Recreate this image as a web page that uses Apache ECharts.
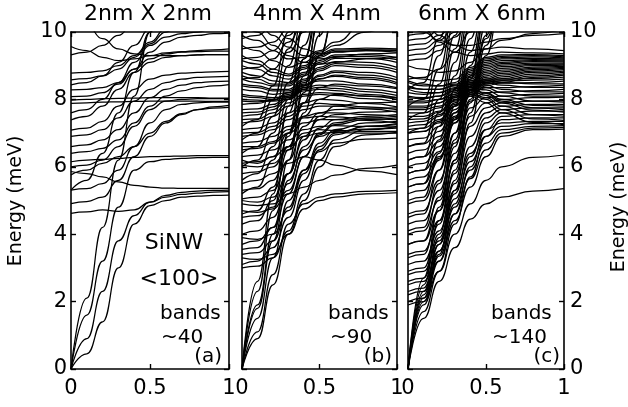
<!DOCTYPE html>
<html><head><meta charset="utf-8">
<script src="https://cdn.jsdelivr.net/npm/echarts@6/dist/echarts.min.js"></script>
<style>html,body{margin:0;padding:0;background:#fff}#c{width:628px;height:407px}</style>
</head><body><div id="c"></div>
<script>
// wave-vector samples (fraction of zone) for each panel
const kA = [0,0.1,0.2,0.3,0.4,0.5,0.6,0.7,0.8,0.9,1];
const kB = [0,0.1,0.2,0.3,0.4,0.5,0.6,0.8,1];
const kC = [0,0.1,0.2,0.3,0.4,0.5,0.6,0.8,1];

// panel (a) 2nm x 2nm bands, energy in meV at kA
const bandsA = [
[0,2.1,4.2,6.2,8.1,10,11.8,13,14,15,16],
[0,0.45,1.4,3.0,4.3,4.85,5.0,5.1,5.13,5.15,5.16],
[0,0.9,2.3,3.8,4.55,4.95,5.1,5.18,5.22,5.25,5.26],
[0,1.6,3.2,4.8,5.9,6.15,6.22,6.25,6.27,6.28,6.28],
[4.62,4.66,4.72,4.68,4.72,4.95,5.15,5.24,5.28,5.3,5.31],
[6.15,6.2,6.22,6.25,6.28,6.3,6.31,6.32,6.33,6.33,6.33],
[5.86,5.8,5.7,5.55,5.45,5.4,5.37,5.36,5.36,5.36,5.36],
[5.76,5.9,6.1,6.3,6.6,7.0,7.35,7.58,7.7,7.74,7.76],
[4.91,4.97,5.1,5.6,6.3,6.9,7.3,7.55,7.7,7.78,7.82],
[6.4,6.45,6.55,6.8,7.3,7.8,8.1,8.25,8.35,8.4,8.44],
[6.6,6.65,6.8,7.1,7.6,8.05,8.3,8.42,8.5,8.53,8.54],
[6.9,6.95,7.1,7.45,7.95,8.3,8.5,8.6,8.65,8.67,8.68],
[7.09,7.15,7.35,7.8,8.3,8.6,8.72,8.78,8.8,8.82,8.83],
[7.39,7.5,7.8,8.3,8.8,9.1,9.25,9.3,9.32,9.33,9.33],
[7.88,7.9,7.92,7.93,7.94,7.95,7.95,7.95,7.95,7.94,7.94],
[7.98,8.0,8.02,8.03,8.04,8.05,8.05,8.05,8.05,8.04,8.04],
[8.08,8.1,8.2,8.45,8.9,9.2,9.35,9.4,9.42,9.43,9.43],
[8.28,8.3,8.35,8.5,8.9,9.4,9.7,9.85,9.9,9.95,9.97],
[8.43,8.5,8.7,9.1,9.6,10.1,10.5,10.8,11,11,11],
[9.57,9.45,9.25,9.15,9.2,9.3,9.38,9.42,9.45,9.47,9.5],
[9.32,9.4,9.6,9.9,10.3,10.8,11,11,11,11,11],
[8.78,8.8,8.85,9.0,9.3,9.7,10.1,10.4,10.6,10.7,10.7],
[8.58,8.62,8.7,8.9,9.25,9.65,10.0,10.3,10.5,10.6,10.6],
[5.31,5.6,6.4,7.6,8.8,10,11,11,11,11,11],
[5.31,5.35,5.5,5.9,6.6,7.3,7.7,7.85,7.9,7.92,7.92],
[6.0,6.05,6.2,6.6,7.2,7.7,7.95,8.0,8.02,8.02,8.02],
[7.6,7.7,8.0,8.5,9.1,9.6,9.85,9.95,10,10.1,10.2],
[10.5,10.2,9.8,9.5,9.35,9.3,9.3,9.3,9.32,9.33,9.33]
];

// panel (b) 4nm x 4nm bands at kB
const bandsB = [
[0,2.6,5.2,7.8,10.3,12,13,13,13],
[0,2.3,4.7,7.0,9.2,11,12,13,13],
[0,1.9,4.0,6.2,8.4,10.5,12,13,13],
[0,0.9,2.5,4.0,4.75,5.0,5.1,5.2,5.23],
[0,1.1,2.8,4.3,4.9,5.1,5.2,5.27,5.3],
[0,1.5,3.3,5.0,5.9,6.45,6.7,6.82,6.85],
[0,1.8,3.8,5.6,6.5,6.9,7.05,7.12,7.15],
[4.9,4.85,4.9,5.2,5.4,5.6,5.75,5.95,6.05],
[5.5,5.6,5.8,6.1,6.3,6.2,6.05,5.88,5.77],
[3.0,3.05,3.3,4.1,5.2,6.2,6.8,7.1,7.2],
[3.1,3.2,3.6,4.5,5.6,6.5,6.95,7.2,7.25],
[3.4,3.45,3.8,4.8,5.9,6.7,7.1,7.3,7.35],
[3.7,3.8,4.2,5.2,6.3,6.95,7.25,7.4,7.45],
[4.0,4.1,4.5,5.5,6.6,7.15,7.4,7.5,7.55],
[4.5,4.55,4.8,5.8,6.9,7.4,7.55,7.62,7.65],
[5.05,5.1,5.3,6.2,7.2,7.6,7.7,7.74,7.75],
[5.2,5.4,6.2,7.6,9.2,10.6,11.5,12,12],
[5.6,5.8,6.6,8.0,9.6,11,12,12,12],
[6.0,6.2,7.0,8.5,10.1,11.3,12,12,12],
[6.4,6.6,7.5,9.0,10.5,11.5,12,12,12],
[4.3,4.4,5.0,6.5,8.2,9.9,11.2,12,12],
[3.55,3.6,4.2,5.8,7.6,9.3,10.6,12,12],
[6.1,6.15,6.3,6.6,6.9,7.0,7.02,7.0,7.0],
[6.3,6.35,6.5,6.8,7.1,7.2,7.22,7.2,7.18],
[6.5,6.55,6.7,7.0,7.3,7.4,7.4,7.38,7.3],
[6.7,6.75,6.9,7.2,7.5,7.6,7.6,7.55,7.5],
[6.9,6.95,7.1,7.4,7.7,7.8,7.8,7.72,7.62],
[7.1,7.15,7.3,7.6,7.9,8.0,7.98,7.88,7.78],
[7.3,7.35,7.5,7.8,8.1,8.15,8.12,8.02,7.92],
[7.5,7.55,7.7,8.0,8.25,8.3,8.26,8.15,8.05],
[7.7,7.72,7.85,8.1,8.35,8.42,8.4,8.3,8.2],
[7.85,7.88,7.98,8.2,8.45,8.55,8.55,8.45,8.35],
[8.0,7.98,7.95,8.0,8.3,8.6,8.72,8.65,8.5],
[8.15,8.1,8.05,8.1,8.4,8.72,8.85,8.8,8.65],
[8.3,8.25,8.15,8.2,8.5,8.85,9.0,8.95,8.8],
[8.45,8.4,8.3,8.3,8.6,8.95,9.12,9.1,8.95],
[8.6,8.5,8.4,8.4,8.7,9.05,9.22,9.22,9.1],
[8.8,8.7,8.55,8.5,8.8,9.15,9.32,9.33,9.25],
[9.0,8.9,8.7,8.6,8.9,9.25,9.42,9.45,9.4],
[9.3,9.15,8.9,8.75,9.0,9.35,9.5,9.52,9.5],
[9.6,9.45,9.15,8.95,9.1,9.4,9.6,10.0,10.5],
[9.9,9.75,9.45,9.2,9.25,9.45,9.7,10.3,11],
[9.8,9.9,10.2,10.6,11,11,11,11,11],
[9.5,9.55,9.7,10.1,10.6,11,11,11,11],
[9.2,9.25,9.45,9.9,10.5,11,11,11,11],
[8.9,8.95,9.2,9.7,10.3,11,11,11,11],
[8.6,8.65,8.9,9.4,10.0,10.8,11,11,11],
[10.3,10.0,9.6,9.3,9.1,9.05,9.1,9.2,9.25],
[5.0,4.95,5.1,5.8,6.8,7.5,7.8,7.9,7.92],
[5.8,5.85,6.0,6.6,7.5,8.0,8.15,8.1,8.05],
[6.2,6.1,6.3,7.0,7.9,8.35,8.45,8.4,8.32],
[6.05,6.0,6.1,6.5,7.0,7.1,7.08,7.05,7.05],
[6.6,6.6,6.75,7.1,7.45,7.5,7.48,7.42,7.4],
[7.0,7.02,7.2,7.5,7.8,7.88,7.85,7.78,7.7],
[7.4,7.42,7.6,7.9,8.15,8.2,8.18,8.1,8.0],
[7.6,7.62,7.78,8.05,8.3,8.36,8.33,8.23,8.12],
[7.95,7.93,7.97,8.15,8.42,8.62,8.68,8.6,8.45],
[8.1,8.05,8.0,8.05,8.35,8.68,8.8,8.72,8.58],
[8.4,8.35,8.25,8.25,8.55,8.9,9.06,9.02,8.88],
[8.7,8.6,8.45,8.45,8.75,9.1,9.28,9.28,9.18],
[9.15,9.05,8.8,8.7,8.95,9.3,9.46,9.48,9.45],
[10.6,10.3,9.9,9.55,9.3,9.2,9.25,9.35,9.38],
[10.9,10.6,10.2,9.8,9.5,9.35,9.4,9.45,9.47],
[4.7,4.65,4.75,5.3,6.3,7.0,7.3,7.45,7.5],
[3.3,3.25,3.4,4.0,5.0,6.0,6.6,6.95,7.02],
[3.9,3.85,4.0,4.7,5.8,6.6,7.0,7.2,7.28],
[5.3,5.35,5.6,6.6,7.9,9.3,10.5,12,12],
[4.6,4.7,5.4,6.9,8.7,10.3,11.5,12,12],
[6.8,7.0,8.0,9.5,11,12,12,12,12],
[7.2,7.4,8.4,10,11.5,12,12,12,12]
];

// panel (c) 6nm x 6nm bands at kC
const bandsC = [
[0,1.5,2.6,3.6,4.45,4.9,5.1,5.28,5.35],
[0,1.7,2.9,4.0,4.9,5.6,6.0,6.28,6.35],
[0,1.9,3.2,4.4,5.4,6.3,6.9,7.1,7.12],
[0,2.1,3.5,4.8,5.9,6.7,7.1,7.2,7.22],
[0,2.3,3.9,5.3,6.4,7.1,7.3,7.35,7.35],
[0,2.5,4.4,6.2,8.0,9.8,11,12,12],
[1.9,2.0,2.9,4.3,5.7,6.9,7.4,7.45,7.45],
[2.2,2.3,3.2,4.6,6.0,7.1,7.5,7.55,7.55],
[2.5,2.6,3.5,4.9,6.3,7.3,7.6,7.65,7.65],
[2.8,2.9,3.8,5.2,6.6,7.45,7.7,7.75,7.75],
[3.1,3.2,4.1,5.5,6.9,7.6,7.8,7.85,7.85],
[3.4,3.5,4.4,5.8,7.2,7.75,7.9,7.95,7.96],
[3.7,3.8,4.7,6.1,7.5,7.9,8.0,8.05,8.07],
[4.0,4.1,5.0,6.4,7.75,8.05,8.1,8.15,8.18],
[4.3,4.4,5.3,6.7,7.95,8.2,8.22,8.26,8.3],
[4.6,4.7,5.6,7.0,8.15,8.35,8.35,8.38,8.42],
[4.9,5.0,5.9,7.3,8.3,8.48,8.48,8.5,8.54],
[5.2,5.3,6.2,7.6,8.45,8.6,8.6,8.62,8.66],
[2.0,2.1,3.4,5.3,7.3,9.3,11,12,12],
[2.6,2.7,4.0,5.9,7.9,9.9,11.5,12,12],
[3.3,3.4,4.7,6.6,8.6,10.5,12,12,12],
[4.1,4.2,5.5,7.4,9.4,11.2,12,12,12],
[5.0,5.1,6.4,8.3,10.2,12,12,12,12],
[5.8,5.9,7.2,9.1,11,12,12,12,12],
[6.6,6.7,8.0,9.9,11.7,12,12,12,12],
[7.4,7.6,8.9,10.7,12,12,12,12,12],
[5.6,5.7,6.3,7.3,8.1,8.4,8.5,8.65,8.72],
[6.0,6.1,6.6,7.5,8.2,8.5,8.62,8.75,8.8],
[6.4,6.5,6.9,7.7,8.3,8.6,8.72,8.84,8.88],
[6.8,6.85,7.2,7.9,8.4,8.7,8.82,8.92,8.95],
[7.2,7.25,7.5,8.05,8.5,8.8,8.92,9.0,9.02],
[7.6,7.6,7.75,8.15,8.6,8.9,9.02,9.08,9.08],
[7.9,7.9,8.0,8.25,8.7,9.0,9.1,9.15,9.14],
[8.2,8.15,8.2,8.35,8.8,9.1,9.2,9.22,9.2],
[8.5,8.4,8.4,8.5,8.9,9.2,9.28,9.3,9.26],
[9.0,8.9,8.8,8.85,9.1,9.5,9.75,9.95,10.1],
[9.3,9.35,9.6,10.0,10.5,11,11,11,11],
[9.6,9.65,9.9,10.3,10.8,11,11,11,11],
[9.9,9.95,10.2,10.6,11,11,11,11,11],
[8.6,8.65,8.9,9.4,10.0,10.7,11,11,11],
[10.4,10.1,9.7,9.4,9.3,9.35,9.4,9.38,9.35],
[10.8,10.4,9.9,9.6,9.45,9.5,9.55,9.5,9.45],
[7.0,7.05,7.3,7.8,8.1,7.9,7.6,7.32,7.25],
[7.3,7.35,7.55,7.95,8.2,8.05,7.8,7.55,7.5],
[7.8,7.8,7.9,8.1,8.3,8.2,8.0,7.82,7.8],
[8.1,8.05,8.1,8.25,8.4,8.35,8.2,8.1,8.1],
[8.4,8.3,8.3,8.4,8.5,8.5,8.42,8.36,8.36],
[7.1,7.15,7.4,7.85,8.15,8.0,7.7,7.42,7.38],
[7.5,7.5,7.65,8.0,8.25,8.12,7.9,7.68,7.62],
[7.7,7.7,7.8,8.05,8.28,8.18,7.95,7.75,7.7],
[7.95,7.95,8.0,8.15,8.35,8.28,8.1,7.95,7.92],
[8.3,8.2,8.2,8.32,8.45,8.42,8.3,8.22,8.22],
[8.55,8.45,8.4,8.45,8.55,8.55,8.5,8.46,8.46],
[8.7,8.6,8.55,8.6,8.95,9.25,9.32,9.33,9.3],
[8.35,8.3,8.3,8.42,8.85,9.15,9.24,9.26,9.23],
[8.05,8.02,8.1,8.3,8.75,9.05,9.15,9.18,9.17],
[7.75,7.75,7.9,8.2,8.65,8.95,9.06,9.12,9.11],
[7.4,7.42,7.62,8.1,8.55,8.85,8.97,9.04,9.05],
[7.0,7.05,7.35,7.98,8.45,8.75,8.87,8.96,8.98],
[6.6,6.68,7.05,7.8,8.35,8.65,8.77,8.88,8.92],
[6.2,6.3,6.75,7.6,8.25,8.55,8.67,8.8,8.84],
[5.8,5.9,6.45,7.4,8.15,8.45,8.56,8.7,8.76],
[5.4,5.5,6.25,7.45,8.38,8.55,8.55,8.57,8.6],
[2.3,2.4,3.7,5.6,7.6,9.6,11.2,12,12],
[2.9,3.0,4.3,6.2,8.2,10.2,11.8,12,12],
[3.7,3.8,5.1,7.0,9.0,10.9,12,12,12],
[4.5,4.6,5.9,7.8,9.8,11.6,12,12,12],
[5.4,5.5,6.8,8.7,10.6,12,12,12,12],
[6.2,6.3,7.6,9.5,11.4,12,12,12,12],
[7.0,7.15,8.45,10.3,12,12,12,12,12],
[7.8,8.0,9.3,11,12,12,12,12,12],
[8.3,8.5,9.8,11.5,12,12,12,12,12],
[0,2.0,3.35,4.6,5.65,6.5,7.0,7.15,7.17],
[0,2.2,3.7,5.05,6.15,6.9,7.2,7.28,7.28],
[0,2.7,4.8,6.8,8.7,10.6,12,12,12],
[9.15,9.2,9.45,9.85,10.4,11,11,11,11],
[9.45,9.5,9.75,10.15,10.6,11,11,11,11],
[9.75,9.8,10.05,10.45,11,11,11,11,11],
[10.2,10.0,9.75,9.6,9.6,9.7,9.8,9.9,9.95]
];

const titles = ['2nm X 2nm','4nm X 4nm','6nm X 6nm'];
const bandCounts = ['~40','~90','~140'];
const panelTags = ['(a)','(b)','(c)'];
const yTitle = 'Energy (meV)';
const wireName = ['SiNW','<100>'];

const FONT = '"DejaVu Sans", sans-serif';
const grids = [
  {left:71, top:32, width:158, height:337},
  {left:242, top:32, width:155, height:337},
  {left:408, top:32, width:156, height:337}
];
const lineS = {color:'#000', width:1.6};
const tickS = {inside:true, length:5, lineStyle:{color:'#000', width:1.4}};
const xAxis = [], yAxis = [];
grids.forEach((g,i)=>{
  xAxis.push({gridIndex:i,type:'value',min:0,max:1,interval:0.5,position:'bottom',
    axisLine:{show:true,onZero:false,lineStyle:lineS},axisTick:tickS,splitLine:{show:false},
    axisLabel:{show:true,fontFamily:FONT,fontSize:21,color:'#000',margin:9}});
  xAxis.push({gridIndex:i,type:'value',min:0,max:1,interval:0.5,position:'top',
    axisLine:{show:true,onZero:false,lineStyle:lineS},axisTick:tickS,splitLine:{show:false},
    axisLabel:{show:false}});
  yAxis.push({gridIndex:i,type:'value',min:0,max:10,interval:2,position:'left',
    axisLine:{show:true,onZero:false,lineStyle:lineS},axisTick:tickS,splitLine:{show:false},
    axisLabel:{show:i===0,fontFamily:FONT,fontSize:21,color:'#000',margin:4}});
  yAxis.push({gridIndex:i,type:'value',min:0,max:10,interval:2,position:'right',
    axisLine:{show:true,onZero:false,lineStyle:lineS},axisTick:tickS,splitLine:{show:false},
    axisLabel:{show:i===2,fontFamily:FONT,fontSize:21,color:'#000',margin:6}});
});

const series = [];
[[kA,bandsA],[kB,bandsB],[kC,bandsC]].forEach(([ks,bands],p)=>{
  bands.forEach(b=>{
    series.push({type:'line',xAxisIndex:2*p,yAxisIndex:2*p,showSymbol:false,symbol:'none',
      smooth:0.5,smoothMonotone:'x',clip:true,silent:true,
      lineStyle:{color:'#000',width:1.25},
      data:ks.map((k,j)=>[k,b[j]])});
  });
});

function txt(x,y,t,size,align,rot){
  return {type:'text',x:x,y:y,rotation:rot||0,z:100,
    style:{text:t,font:size+'px '+FONT,fill:'#000',textAlign:align||'center',textVerticalAlign:'middle'}};
}
const graphic = [
  txt(148,14,titles[0],22),txt(317,14,titles[1],22),txt(482,14,titles[2],22),
  txt(16,201,yTitle,19,'center',Math.PI/2),
  txt(619,207,yTitle,19,'center',Math.PI/2),
  txt(174,243,wireName[0],22),txt(179,279,wireName[1],22),
  txt(160,314,'bands',20,'left'),txt(161,338,bandCounts[0],20,'left'),txt(222,357,panelTags[0],20,'right'),
  txt(328,314,'bands',20,'left'),txt(330,338,bandCounts[1],20,'left'),txt(392,357,panelTags[1],20,'right'),
  txt(491,314,'bands',20,'left'),txt(492,338,bandCounts[2],20,'left'),txt(560,357,panelTags[2],20,'right')
];

const chart = echarts.init(document.getElementById('c'),null,{renderer:'canvas'});
chart.setOption({animation:false,backgroundColor:'#fff',grid:grids,xAxis:xAxis,yAxis:yAxis,series:series,graphic:graphic});
</script></body></html>
